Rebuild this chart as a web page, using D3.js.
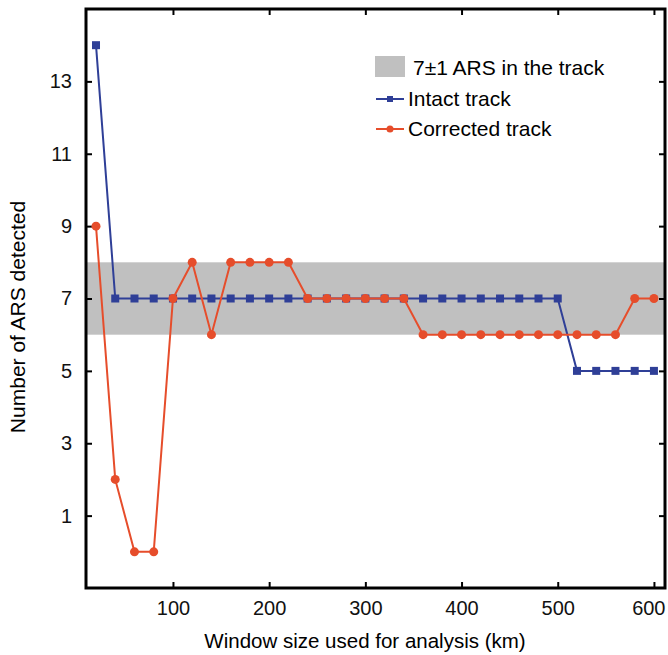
<!DOCTYPE html>
<html lang="en">
<head>
<meta charset="UTF-8">
<title>ARS detected vs window size</title>
<style>
  html, body { margin: 0; padding: 0; background: #fff; }
  svg { display: block; font-family: "Liberation Sans", Arial, Helvetica, sans-serif; }
</style>
</head>
<body>
<svg id="svg" width="668" height="655"></svg>
<script src="https://d3js.org/d3.v7.min.js"></script>
<script>
// window sizes (km)
const windowSizes = [20, 40, 60, 80, 100, 120, 140, 160, 180, 200, 220, 240, 260, 280, 300,
                     320, 340, 360, 380, 400, 420, 440, 460, 480, 500, 520, 540, 560, 580, 600]
const intactTrack = [14, 7, 7, 7, 7, 7, 7, 7, 7, 7, 7, 7, 7, 7, 7,
                     7, 7, 7, 7, 7, 7, 7, 7, 7, 7, 5, 5, 5, 5, 5]
const correctedTrack = [9, 2, 0, 0, 7, 8, 6, 8, 8, 8, 8, 7, 7, 7, 7,
                        7, 7, 6, 6, 6, 6, 6, 6, 6, 6, 6, 6, 6, 7, 7]
const band = [6, 8]
const xTicks = [100, 200, 300, 400, 500, 600]
const yTicks = [1, 3, 5, 7, 9, 11, 13]

const blue = '#2f3f97'
const red = '#e64d2b'

const margin = { top: 9, right: 3, bottom: 67, left: 86 }
const width = 668 - margin.left - margin.right
const height = 655 - margin.top - margin.bottom

const svg = d3.select('#svg')
const g = svg.append('g').attr('transform', `translate(${margin.left},${margin.top})`)

const x = d3.scaleLinear().domain([9.6, 611.5]).range([0, width])
const y = d3.scaleLinear().domain([-1, 15]).range([height, 0])

// grey band 7±1
g.append('rect')
  .attr('x', 0)
  .attr('width', width)
  .attr('y', y(band[1]))
  .attr('height', y(band[0]) - y(band[1]))
  .attr('fill', '#c0c0c0')

// axes with inward ticks
const tickLen = 6
const axB = g.append('g').attr('transform', `translate(0,${height})`)
  .call(d3.axisBottom(x).tickValues(xTicks).tickSizeInner(-tickLen).tickSizeOuter(0).tickPadding(13))
const axT = g.append('g')
  .call(d3.axisTop(x).tickValues(xTicks).tickSizeInner(-tickLen).tickSizeOuter(0).tickFormat(''))
const axL = g.append('g')
  .call(d3.axisLeft(y).tickValues(yTicks).tickSizeInner(-tickLen).tickSizeOuter(0).tickPadding(14))
const axR = g.append('g').attr('transform', `translate(${width},0)`)
  .call(d3.axisRight(y).tickValues(yTicks).tickSizeInner(-tickLen).tickSizeOuter(0).tickFormat(''))

for (const ax of [axB, axT, axL, axR]) {
  ax.select('.domain').remove()
  ax.selectAll('.tick line').attr('stroke', '#000').attr('stroke-width', 2)
  ax.selectAll('.tick text').attr('font-size', 20).attr('fill', '#111')
    .style('font-family', '"Liberation Sans", Arial, sans-serif')
}
axB.selectAll('.tick text').attr('dy', '0.71em')
// last label is pulled in so it ends at the frame edge
axB.selectAll('.tick text').filter(d => d === xTicks[xTicks.length - 1])
  .attr('text-anchor', 'end').attr('x', width - x(xTicks[xTicks.length - 1]))

// series
const line = d3.line().x(d => x(d[0])).y(d => y(d[1]))
const intactPts = windowSizes.map((w, i) => [w, intactTrack[i]])
const correctedPts = windowSizes.map((w, i) => [w, correctedTrack[i]])

g.append('path').datum(intactPts)
  .attr('d', line).attr('fill', 'none').attr('stroke', blue).attr('stroke-width', 2)
g.selectAll('rect.intact').data(intactPts).enter().append('rect')
  .attr('class', 'intact')
  .attr('x', d => x(d[0]) - 4).attr('y', d => y(d[1]) - 4)
  .attr('width', 8).attr('height', 8).attr('fill', blue)

g.append('path').datum(correctedPts)
  .attr('d', line).attr('fill', 'none').attr('stroke', red).attr('stroke-width', 2)
g.selectAll('circle.corr').data(correctedPts).enter().append('circle')
  .attr('class', 'corr')
  .attr('cx', d => x(d[0])).attr('cy', d => y(d[1]))
  .attr('r', 4.5).attr('fill', red)

// frame
g.append('rect')
  .attr('width', width).attr('height', height)
  .attr('fill', 'none').attr('stroke', '#000').attr('stroke-width', 3)

// legend
const leg = svg.append('g').attr('transform', 'translate(375,0)')
leg.append('rect').attr('x', 0).attr('y', 56).attr('width', 30).attr('height', 21).attr('fill', '#c0c0c0')
leg.append('text').attr('x', 38).attr('y', 75).attr('font-size', 21).text('7±1 ARS in the track')
const legItems = [
  { label: 'Intact track', color: blue, y: 99, shape: 'square' },
  { label: 'Corrected track', color: red, y: 129, shape: 'circle' }
]
legItems.forEach(it => {
  leg.append('line').attr('x1', 1).attr('x2', 29).attr('y1', it.y).attr('y2', it.y)
    .attr('stroke', it.color).attr('stroke-width', 2)
  if (it.shape === 'square') {
    leg.append('rect').attr('x', 12).attr('y', it.y - 3).attr('width', 6).attr('height', 6).attr('fill', it.color)
  } else {
    leg.append('circle').attr('cx', 15).attr('cy', it.y).attr('r', 3.5).attr('fill', it.color)
  }
  leg.append('text').attr('x', 33).attr('y', it.y + 7).attr('font-size', 21).text(it.label)
})

// axis titles
svg.append('text')
  .attr('x', 365)
  .attr('y', 648)
  .attr('text-anchor', 'middle')
  .attr('font-size', 20.5)
  .text('Window size used for analysis (km)')

svg.append('text')
  .attr('transform', 'rotate(-90)')
  .attr('x', -317)
  .attr('y', 25)
  .attr('text-anchor', 'middle')
  .attr('font-size', 21)
  .text('Number of ARS detected')
</script>
</body>
</html>
